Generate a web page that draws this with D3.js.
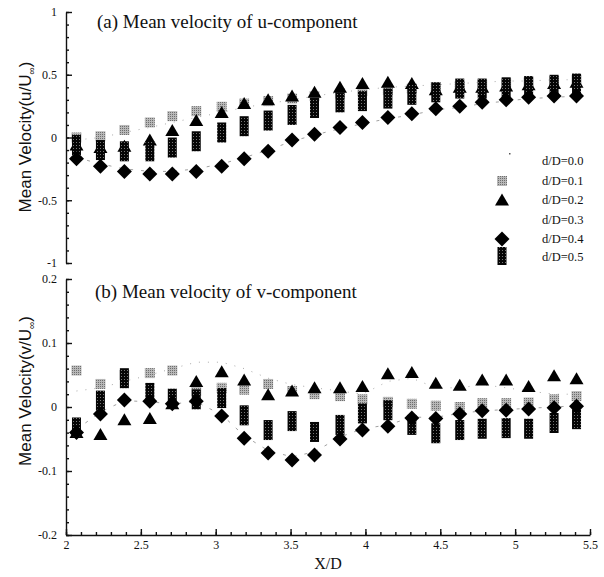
<!DOCTYPE html>
<html>
<head>
<meta charset="utf-8">
<script src="https://cdn.jsdelivr.net/npm/d3@7"></script>
<style>
  body { margin: 0; background: #fff; }
  text { fill: #111; }
</style>
</head>
<body>
<script>
// X/D stations
const xd = [2.07, 2.23, 2.39, 2.56, 2.71, 2.87, 3.04, 3.19, 3.35, 3.51, 3.66,
            3.83, 3.98, 4.15, 4.31, 4.47, 4.63, 4.78, 4.94, 5.09, 5.26, 5.41];

// (a) u/U values per d/D
const u00 = [-0.02, 0.0, 0.04, 0.08, 0.12, 0.16, 0.2, 0.24, 0.27, 0.3, 0.33, 0.36, 0.38, 0.4, 0.41, 0.42, 0.43, 0.44, 0.45, 0.45, 0.46, 0.46];
const u01 = [0.0, 0.01, 0.06, 0.12, 0.17, 0.21, 0.245, 0.27, 0.29, 0.31, 0.33, 0.35, 0.37, 0.38, 0.39, 0.4, 0.41, 0.42, 0.43, 0.44, 0.45, 0.46];
const u02 = [-0.06, -0.08, -0.07, -0.02, 0.055, 0.135, 0.2, 0.27, 0.3, 0.33, 0.36, 0.4, 0.43, 0.44, 0.43, 0.38, 0.4, 0.4, 0.41, 0.42, 0.43, 0.44];
const u03 = [-0.16, -0.21, -0.25, -0.27, -0.27, -0.25, -0.21, -0.16, -0.1, -0.03, 0.02, 0.07, 0.11, 0.15, 0.18, 0.22, 0.24, 0.27, 0.29, 0.31, 0.32, 0.33];
const u04 = [-0.17, -0.23, -0.27, -0.29, -0.29, -0.27, -0.23, -0.17, -0.11, -0.02, 0.025, 0.08, 0.12, 0.16, 0.19, 0.23, 0.25, 0.28, 0.3, 0.32, 0.33, 0.33];
const u05 = [-0.06, -0.1, -0.11, -0.11, -0.08, -0.03, 0.04, 0.09, 0.135, 0.18, 0.235, 0.28, 0.29, 0.31, 0.34, 0.36, 0.39, 0.39, 0.4, 0.41, 0.42, 0.43];

// (b) v/U values per d/D
const v00 = [0.025, 0.03, 0.04, 0.05, 0.06, 0.07, 0.07, 0.06, 0.045, 0.035, 0.03, 0.025, 0.02, 0.04, 0.045, 0.03, 0.03, 0.035, 0.03, 0.025, 0.02, 0.02];
const v01 = [0.057, 0.036, 0.05, 0.053, 0.057, 0.025, 0.03, 0.027, 0.036, 0.025, 0.02, 0.017, 0.012, 0.008, 0.005, 0.002, 0.0, 0.006, 0.006, 0.007, 0.012, 0.017];
const v02 = [-0.04, -0.043, -0.02, -0.018, 0.005, 0.04, 0.055, 0.042, 0.019, 0.025, 0.03, 0.03, 0.032, 0.052, 0.054, 0.037, 0.034, 0.042, 0.042, 0.032, 0.049, 0.044];
const v03 = [-0.035, -0.008, 0.01, 0.008, 0.005, 0.008, -0.012, -0.045, -0.068, -0.078, -0.07, -0.047, -0.034, -0.028, -0.016, -0.016, -0.01, -0.006, -0.004, -0.002, 0.0, 0.002];
const v04 = [-0.04, -0.011, 0.011, 0.009, 0.005, 0.009, -0.014, -0.049, -0.072, -0.083, -0.075, -0.05, -0.036, -0.03, -0.017, -0.018, -0.011, -0.006, -0.005, -0.003, -0.001, 0.001];
const v05 = [-0.032, 0.01, 0.045, 0.022, 0.013, 0.012, 0.014, -0.013, -0.036, -0.022, -0.039, -0.028, -0.01, -0.005, -0.028, -0.041, -0.036, -0.034, -0.033, -0.034, -0.025, -0.019];

const legendLabels = ["d/D=0.0", "d/D=0.1", "d/D=0.2", "d/D=0.3", "d/D=0.4", "d/D=0.5"];
const xTicks = [2, 2.5, 3, 3.5, 4, 4.5, 5, 5.5];
const uTicks = [1, 0.5, 0, -0.5, -1];
const vTicks = [0.2, 0.1, 0, -0.1, -0.2];

const width = 604, height = 577;
const serif = "Liberation Serif, Times New Roman, serif";
const sans = "Liberation Sans, Arial, sans-serif";

const svg = d3.select("body").append("svg")
  .attr("width", width).attr("height", height);

// speckled textures like the scan
const defs = svg.append("defs");
const pd = defs.append("pattern").attr("id", "dark")
  .attr("width", 3).attr("height", 3).attr("patternUnits", "userSpaceOnUse");
pd.append("rect").attr("width", 3).attr("height", 3).attr("fill", "#050505");
pd.append("rect").attr("x", 1).attr("y", 1).attr("width", 1).attr("height", 1).attr("fill", "#777");
const pg = defs.append("pattern").attr("id", "gray")
  .attr("width", 2).attr("height", 2).attr("patternUnits", "userSpaceOnUse");
pg.append("rect").attr("width", 2).attr("height", 2).attr("fill", "#b8b8b8");
pg.append("rect").attr("width", 1).attr("height", 1).attr("fill", "#6e6e6e");

const x = d3.scaleLinear().domain([2, 5.5]).range([66, 590]);
const yU = d3.scaleLinear().domain([-1, 1]).range([263, 12]);
const yV = d3.scaleLinear().domain([-0.2, 0.2]).range([535, 279]);

const fmt = (d) => String(d);

function leftAxis(y, ticks, minorStep) {
  const g = svg.append("g").attr("transform", "translate(66,0)");
  const [lo, hi] = y.domain();
  g.call(d3.axisLeft(y).tickValues(d3.range(lo, hi + minorStep / 2, minorStep))
    .tickSizeInner(-3).tickSizeOuter(0).tickFormat(""));
  g.call((s) => s.select(".domain").remove());
  const m = svg.append("g").attr("transform", "translate(66,0)")
    .call(d3.axisLeft(y).tickValues(ticks).tickSizeInner(-6).tickSizeOuter(0)
      .tickPadding(9).tickFormat(fmt));
  m.selectAll("text").attr("font-family", serif).attr("font-size", 12).attr("fill", "#111");
}

function drawPanel(y, s00, s01, s02, s03, s04, s05) {
  const line = (vals) => d3.line().x((d, i) => x(xd[i])).y((d) => y(d))(vals);
  svg.append("path").attr("d", line(s00)).attr("fill", "none")
    .attr("stroke", "#aaa").attr("stroke-width", 1).attr("stroke-dasharray", "1,8");
  svg.append("path").attr("d", line(s03)).attr("fill", "none")
    .attr("stroke", "#888").attr("stroke-width", 0.8).attr("stroke-dasharray", "3,8");

  const g = svg.append("g");
  g.selectAll(".sq").data(s01).join("rect")
    .attr("x", (d, i) => x(xd[i]) - 5).attr("y", (d) => y(d) - 5)
    .attr("width", 10).attr("height", 10).attr("fill", "url(#gray)");
  g.selectAll(".tri").data(s02).join("path")
    .attr("transform", (d, i) => `translate(${x(xd[i])},${y(d)})`)
    .attr("d", "M0,-6.5L7,5.5L-7,5.5Z").attr("fill", "#000");
  g.selectAll(".bar").data(s05).join("rect")
    .attr("x", (d, i) => x(xd[i]) - 4.5).attr("y", (d) => y(d) - 10)
    .attr("width", 9).attr("height", 20).attr("fill", "url(#dark)");
  g.selectAll(".dia").data(s04).join("path")
    .attr("transform", (d, i) => `translate(${x(xd[i])},${y(d)})`)
    .attr("d", "M0,-7.5L7.5,0L0,7.5L-7.5,0Z").attr("fill", "#000");
}

drawPanel(yU, u00, u01, u02, u03, u04, u05);
drawPanel(yV, v00, v01, v02, v03, v04, v05);

leftAxis(yU, uTicks, 0.1);
leftAxis(yV, vTicks, 0.02);

// bottom x-axis
svg.append("g").attr("transform", "translate(0,535)")
  .call(d3.axisBottom(x).tickValues(d3.range(2, 5.55, 0.1)).tickSizeInner(-3)
    .tickSizeOuter(0).tickFormat(""))
  .call((s) => s.select(".domain").remove());
const xa = svg.append("g").attr("transform", "translate(0,535)")
  .call(d3.axisBottom(x).tickValues(xTicks).tickSizeInner(-6).tickSizeOuter(0)
    .tickPadding(5).tickFormat(fmt));
xa.selectAll("text").attr("font-family", serif).attr("font-size", 12).attr("fill", "#111");
svg.selectAll("path.domain, .tick line").attr("stroke", "#111").attr("stroke-width", 1.4);

svg.append("text").attr("x", 328).attr("y", 569).attr("text-anchor", "middle")
  .attr("font-family", serif).attr("font-size", 16).text("X/D");

// panel titles
svg.append("text").attr("x", 97).attr("y", 28)
  .attr("font-family", serif).attr("font-size", 19).text("(a) Mean velocity of u-component");
svg.append("text").attr("x", 95).attr("y", 298)
  .attr("font-family", serif).attr("font-size", 19).text("(b) Mean velocity of v-component");

// y labels
function yLabel(cy, comp) {
  const t = svg.append("text").attr("transform", `translate(31,${cy}) rotate(-90)`)
    .attr("text-anchor", "middle").attr("font-family", sans).attr("font-size", 17);
  t.append("tspan").text(`Mean Velocity(${comp}/U`);
  t.append("tspan").attr("font-size", 10).attr("dy", 4).text("∞");
  t.append("tspan").attr("dy", -4).text(")");
}
yLabel(137, "u");
yLabel(391, "v");

// legend
const legY = [161, 181, 200, 220, 239, 257];
const lg = svg.append("g");
lg.selectAll("text").data(legendLabels).join("text")
  .attr("x", 542).attr("y", (d, i) => legY[i] + 4)
  .attr("font-family", serif).attr("font-size", 12.5).text((d) => d);
lg.append("rect").attr("x", 509).attr("y", legY[0] - 8).attr("width", 1.5).attr("height", 1.5).attr("fill", "#555");
lg.append("rect").attr("x", 497).attr("y", legY[1] - 5).attr("width", 10).attr("height", 10).attr("fill", "url(#gray)");
lg.append("path").attr("transform", `translate(502,${legY[2]})`).attr("d", "M0,-6.5L7,5.5L-7,5.5Z");
lg.append("rect").attr("x", 497.5).attr("y", legY[5] - 10).attr("width", 9).attr("height", 18).attr("fill", "url(#dark)");
lg.append("path").attr("transform", `translate(502,${legY[4]})`).attr("d", "M0,-7.5L7.5,0L0,7.5L-7.5,0Z");
</script>
</body>
</html>
